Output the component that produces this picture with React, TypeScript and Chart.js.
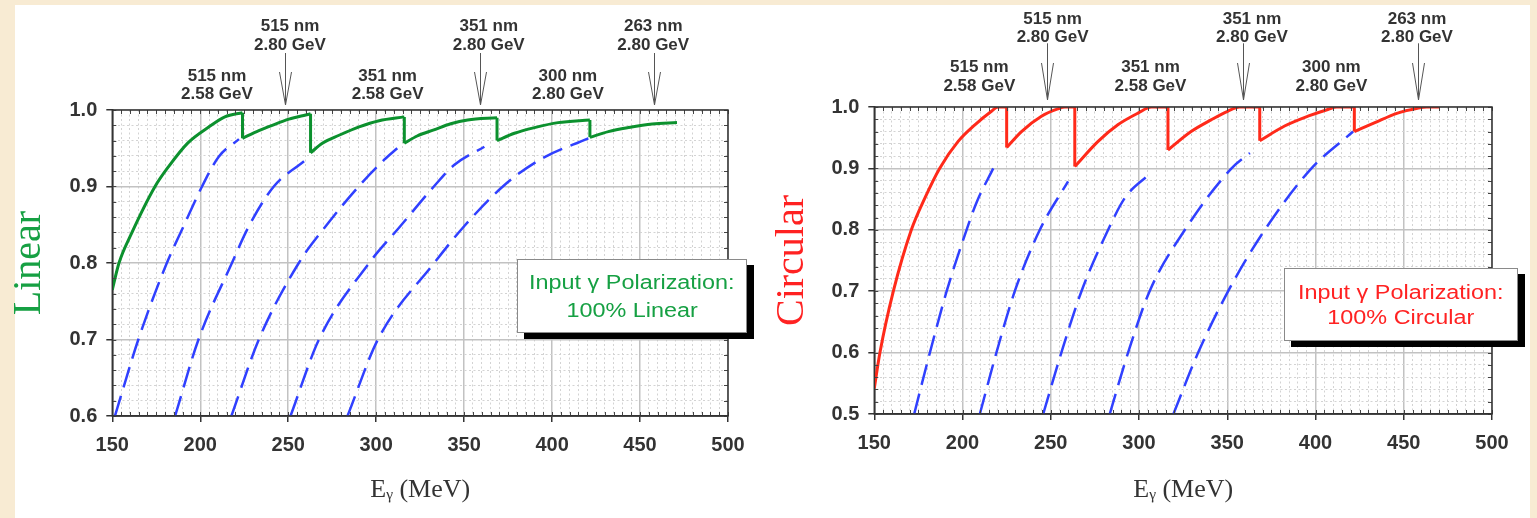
import React, { useEffect, useRef } from "react";
import { Chart, registerables } from "chart.js";

Chart.register(...registerables);

const SANS = '"Liberation Sans", Arial, Helvetica, sans-serif';
const SERIF = '"Liberation Serif", "Times New Roman", Times, serif';

// ---------------- shared tick labels ----------------
const xTickLabels = [150, 200, 250, 300, 350, 400, 450, 500];
const linearYTickLabels = [0.6, 0.7, 0.8, 0.9, 1.0];
const circularYTickLabels = [0.5, 0.6, 0.7, 0.8, 0.9, 1.0];

// ---------------- annotations (E in MeV) ----------------
const arrowE = [248, 359, 458];
const topLabelE = [251, 364, 457.5];
const topLabelText = [
  ["515 nm", "2.80 GeV"],
  ["351 nm", "2.80 GeV"],
  ["263 nm", "2.80 GeV"],
];
const lowLabelE = [209.5, 306.5, 409];
const lowLabelText = [
  ["515 nm", "2.58 GeV"],
  ["351 nm", "2.58 GeV"],
  ["300 nm", "2.80 GeV"],
];

// ---------------- Linear panel: solid envelope segments ----------------
const linearSolidE = [
  [150, 153.8, 161, 174.3, 182, 193, 205, 214, 224],
  [224, 233.3, 240.9, 250.4, 259.9, 262.7],
  [262.7, 269.4, 278.9, 290.3, 301.7, 316],
  [316, 323.3, 332.8, 342.4, 352, 368.7],
  [368.7, 378.6, 390, 403.4, 421.5],
  [421.5, 432, 443.5, 456.9, 471],
];
const linearSolidP = [
  [0.765, 0.8, 0.839, 0.9, 0.926, 0.957, 0.978, 0.991, 0.9965],
  [0.963, 0.973, 0.98, 0.988, 0.9935, 0.995],
  [0.944, 0.9565, 0.967, 0.978, 0.986, 0.991],
  [0.9565, 0.966, 0.974, 0.982, 0.987, 0.99],
  [0.96, 0.9696, 0.977, 0.9835, 0.987],
  [0.9643, 0.9717, 0.977, 0.9817, 0.9835],
];
// ---------------- Linear panel: dashed curves ----------------
const linearDashE = [
  [151.5, 164.8, 181, 190.5, 201, 210.5, 222],
  [185.7, 199, 218, 227.6, 241.8, 259],
  [217.7, 233.3, 256, 271.3, 290, 304.6, 312],
  [251.3, 267.5, 296, 313.7, 332.8, 344.3, 361.5],
  [283.7, 301, 333, 350, 372, 393, 420.6],
];
const linearDashP = [
  [0.6, 0.7, 0.8, 0.848, 0.9, 0.939, 0.962],
  [0.6, 0.7, 0.8, 0.848, 0.9, 0.933],
  [0.6, 0.7, 0.8, 0.848, 0.9, 0.935, 0.95],
  [0.6, 0.7, 0.8, 0.848, 0.9, 0.928, 0.952],
  [0.6, 0.7, 0.8, 0.848, 0.9, 0.935, 0.963],
];

// ---------------- Circular panel: solid envelope segments ----------------
const circularSolidE = [
  [150, 153.2, 160.8, 171, 178.7, 187, 197.5, 207, 216.4, 220, 225],
  [225, 233.4, 244.7, 254, 258, 263.6],
  [263.6, 276.8, 288, 299.4, 307, 316.4],
  [316.4, 329.5, 340.8, 350.2, 357, 368.4],
  [368.4, 382.5, 395.7, 407, 412, 422],
  [422, 433.3, 446.5, 457.8, 463, 470],
];
const circularSolidP = [
  [0.542, 0.6, 0.7, 0.8, 0.852, 0.9, 0.944, 0.971, 0.993, 1.0, 1.0],
  [0.934, 0.96, 0.985, 0.997, 1.0, 1.0],
  [0.903, 0.944, 0.971, 0.99, 1.0, 1.0],
  [0.93, 0.96, 0.979, 0.993, 1.0, 1.0],
  [0.945, 0.969, 0.985, 0.996, 1.0, 1.0],
  [0.96, 0.974, 0.99, 0.998, 1.0, 1.0],
];
// ---------------- Circular panel: dashed curves ----------------
const circularDashE = [
  [172.6, 181.5, 191, 202.3, 208, 217.4],
  [209.8, 219.2, 229.6, 243.8, 259.8],
  [245.7, 256, 267.4, 282.5, 292, 306],
  [283.4, 293.8, 306, 326, 352.4, 362.8],
  [319.5, 333.5, 350.5, 371.3, 397.7, 421.3],
];
const circularDashP = [
  [0.5, 0.6, 0.7, 0.8, 0.845, 0.9],
  [0.5, 0.6, 0.7, 0.8, 0.879],
  [0.5, 0.6, 0.7, 0.8, 0.852, 0.891],
  [0.5, 0.6, 0.7, 0.8, 0.9, 0.925],
  [0.5, 0.6, 0.7, 0.8, 0.9, 0.96],
];

const BLUE = "#3040ff";

const near = (a: number, b: number) => Math.abs(a - b) < 1e-6;

const frameAnnotPlugin = {
  id: "frameAnnot",
  afterDraw(chart: any, _args: any, o: any) {
    const { ctx, chartArea: a } = chart;
    const xs = chart.scales.x;
    const ys = chart.scales.y;
    ctx.save();
    // inward minor tick marks on all four sides
    ctx.strokeStyle = "#444";
    ctx.lineWidth = 1;
    ctx.beginPath();
    xs.ticks.forEach((t: any) => {
      const px = Math.round(xs.getPixelForValue(t.value)) + 0.5;
      ctx.moveTo(px, a.top);
      ctx.lineTo(px, a.top + 4);
      ctx.moveTo(px, a.bottom);
      ctx.lineTo(px, a.bottom - 4);
    });
    ys.ticks.forEach((t: any) => {
      const py = Math.round(ys.getPixelForValue(t.value)) + 0.5;
      ctx.moveTo(a.left, py);
      ctx.lineTo(a.left + 4, py);
      ctx.moveTo(a.right, py);
      ctx.lineTo(a.right - 4, py);
    });
    ctx.stroke();
    // frame
    ctx.lineWidth = 1.5;
    ctx.strokeStyle = "#333";
    ctx.strokeRect(a.left, a.top, a.right - a.left, a.bottom - a.top);

    // labels above the plot
    ctx.fillStyle = "#333";
    ctx.font = `bold 17px ${SANS}`;
    ctx.textAlign = "center";
    ctx.textBaseline = "middle";
    o.topE.forEach((e: number, i: number) => {
      const px = xs.getPixelForValue(e);
      o.topText[i].forEach((s: string, j: number) => ctx.fillText(s, px, a.top + o.topY[j]));
    });
    o.lowE.forEach((e: number, i: number) => {
      const px = xs.getPixelForValue(e);
      o.lowText[i].forEach((s: string, j: number) => ctx.fillText(s, px, a.top + o.lowY[j]));
    });
    // arrows
    ctx.strokeStyle = "#555";
    ctx.lineWidth = 1;
    o.arrowE.forEach((e: number) => {
      const px = Math.round(xs.getPixelForValue(e)) + 0.5;
      const y0 = a.top + o.arrowY[0];
      const yw = a.top + o.arrowY[1];
      const yt = a.top + o.arrowY[2];
      ctx.beginPath();
      ctx.moveTo(px, y0);
      ctx.lineTo(px, yt);
      ctx.moveTo(px - 6, yw);
      ctx.lineTo(px, yt);
      ctx.lineTo(px + 6, yw);
      ctx.stroke();
    });
    ctx.restore();
  },
};

type Spec = {
  solidE: number[][];
  solidP: number[][];
  dashE: number[][];
  dashP: number[][];
  color: string;
  titleColor: string;
  yTitle: string;
  yMin: number;
  yTicks: number[];
  yAxisW: number;
  xAxisH: number;
  padRight: number;
  padTop: number;
  yTitlePad: number;
  annot: any;
};

function makeConfig(spec: Spec): any {
  const datasets: any[] = [];
  spec.solidE.forEach((xs, k) => {
    datasets.push({
      data: xs.map((x, i) => ({ x, y: spec.solidP[k][i] })),
      borderColor: spec.color,
      borderWidth: 3,
      pointRadius: 0,
      cubicInterpolationMode: "monotone",
      fill: false,
    });
    if (k + 1 < spec.solidE.length) {
      const n = xs.length - 1;
      datasets.push({
        data: [
          { x: xs[n], y: spec.solidP[k][n] },
          { x: spec.solidE[k + 1][0], y: spec.solidP[k + 1][0] },
        ],
        borderColor: spec.color,
        borderWidth: 3,
        pointRadius: 0,
        tension: 0,
        fill: false,
      });
    }
  });
  spec.dashE.forEach((xs, k) => {
    datasets.push({
      data: xs.map((x, i) => ({ x, y: spec.dashP[k][i] })),
      borderColor: BLUE,
      borderWidth: 2.5,
      borderDash: [21, 9],
      pointRadius: 0,
      cubicInterpolationMode: "monotone",
      fill: false,
    });
  });

  const majorX = (v: number) => xTickLabels.some((t) => near(t, v));
  const majorY = (v: number) => spec.yTicks.some((t) => near(t, v));

  return {
    type: "line",
    data: { datasets },
    plugins: [frameAnnotPlugin],
    options: {
      responsive: false,
      animation: false,
      layout: { padding: { left: 0, right: spec.padRight, top: spec.padTop, bottom: 0 } },
      plugins: {
        legend: { display: false },
        tooltip: { enabled: false },
        frameAnnot: spec.annot,
      },
      scales: {
        x: {
          type: "linear",
          min: 150,
          max: 500,
          ticks: {
            stepSize: 5,
            autoSkip: false,
            maxTicksLimit: 1000,
            maxRotation: 0,
            minRotation: 0,
            padding: 11,
            color: "#333",
            font: { family: SANS, size: 20, weight: "bold" },
            callback: (v: number) => (majorX(v) ? String(Math.round(v)) : ""),
          },
          grid: {
            color: (c: any) => (c.tick && majorX(c.tick.value) ? "#c2c2c2" : "#d3d3d3"),
            lineWidth: (c: any) => (c.tick && majorX(c.tick.value) ? 1.5 : 1),
            tickColor: (c: any) => (c.tick && majorX(c.tick.value) ? "#333" : "rgba(0,0,0,0)"),
            tickLength: 6,
            tickWidth: 1.5,
          },
          border: {
            display: true,
            color: "#333",
            width: 1.5,
            dash: (c: any) => (c.tick && !majorX(c.tick.value) ? [2, 2.5] : []),
          },
          title: {
            display: true,
            text: "E\u1D67 (MeV)",
            color: "#333",
            font: { family: SERIF, size: 26, weight: "normal" },
            padding: { top: 0, bottom: 12 },
          },
          afterFit: (s: any) => {
            s.height = spec.xAxisH;
          },
        },
        y: {
          type: "linear",
          min: spec.yMin,
          max: 1.0,
          ticks: {
            stepSize: 0.02,
            autoSkip: false,
            maxTicksLimit: 1000,
            padding: 9,
            color: "#333",
            font: { family: SANS, size: 20, weight: "bold" },
            callback: (v: number) => (majorY(v) ? Number(v).toFixed(1) : ""),
          },
          grid: {
            color: (c: any) => (c.tick && majorY(c.tick.value) ? "#c2c2c2" : "#d3d3d3"),
            lineWidth: (c: any) => (c.tick && majorY(c.tick.value) ? 1.5 : 1),
            tickColor: (c: any) => (c.tick && majorY(c.tick.value) ? "#333" : "rgba(0,0,0,0)"),
            tickLength: 6,
            tickWidth: 1.5,
          },
          border: {
            display: true,
            color: "#333",
            width: 1.5,
            dash: (c: any) => (c.tick && !majorY(c.tick.value) ? [2, 2.5] : []),
          },
          title: {
            display: true,
            text: spec.yTitle,
            color: spec.titleColor,
            font: { family: SERIF, size: 40, weight: "normal" },
            padding: { top: spec.yTitlePad, bottom: 0 },
          },
          afterFit: (s: any) => {
            s.width = spec.yAxisW;
          },
        },
      },
    },
  };
}

const GREEN = "#0c912e";
const GREEN_TEXT = "#16a043";
const RED = "#ff2a1a";
const RED_TEXT = "#ff2222";

export default function App() {
  const leftRef = useRef<HTMLCanvasElement>(null);
  const rightRef = useRef<HTMLCanvasElement>(null);

  useEffect(() => {
    const left = new Chart(
      leftRef.current as HTMLCanvasElement,
      makeConfig({
        solidE: linearSolidE,
        solidP: linearSolidP,
        dashE: linearDashE,
        dashP: linearDashP,
        color: GREEN,
        titleColor: GREEN_TEXT,
        yTitle: "Linear",
        yMin: 0.6,
        yTicks: linearYTickLabels,
        yAxisW: 112.3,
        xAxisH: 102,
        padRight: 40,
        padTop: 110,
        yTitlePad: 5,
        annot: {
          topE: topLabelE,
          topText: topLabelText,
          lowE: lowLabelE,
          lowText: lowLabelText,
          arrowE,
          topY: [-83.5, -64.5],
          lowY: [-33.5, -15.3],
          arrowY: [-57, -38, -5],
        },
      })
    );
    const right = new Chart(
      rightRef.current as HTMLCanvasElement,
      makeConfig({
        solidE: circularSolidE,
        solidP: circularSolidP,
        dashE: circularDashE,
        dashP: circularDashP,
        color: RED,
        titleColor: RED_TEXT,
        yTitle: "Circular",
        yMin: 0.5,
        yTicks: circularYTickLabels,
        yAxisW: 106.3,
        xAxisH: 104,
        padRight: 45,
        padTop: 107,
        yTitlePad: 0,
        annot: {
          topE: topLabelE,
          topText: topLabelText,
          lowE: lowLabelE,
          lowText: lowLabelText,
          arrowE,
          topY: [-87.8, -69.5],
          lowY: [-39.5, -20.8],
          arrowY: [-63.7, -44, -7],
        },
      })
    );
    return () => {
      left.destroy();
      right.destroy();
    };
  }, []);

  const boxBase: React.CSSProperties = {
    position: "absolute",
    background: "#fff",
    border: "1px solid #8a8a8a",
    boxShadow: "7px 6px 0 #000",
    boxSizing: "border-box",
    display: "flex",
    flexDirection: "column",
    justifyContent: "center",
    alignItems: "center",
    fontFamily: SANS,
    fontSize: 20,
    whiteSpace: "nowrap",
  };
  const line: React.CSSProperties = { transform: "scaleX(1.17)" };

  return (
    <div
      style={{
        position: "fixed",
        left: 0,
        top: 0,
        width: 1537,
        height: 518,
        background: "#f8ebd3",
        overflow: "hidden",
      }}
    >
      <div style={{ position: "absolute", left: 15, top: 5, width: 1515, height: 513, background: "#fff" }} />
      <canvas
        ref={leftRef}
        width={768}
        height={518}
        style={{ position: "absolute", left: 0, top: 0, width: 768, height: 518 }}
      />
      <canvas
        ref={rightRef}
        width={769}
        height={518}
        style={{ position: "absolute", left: 768, top: 0, width: 769, height: 518 }}
      />
      <div style={{ ...boxBase, left: 517, top: 259, width: 230, height: 74, color: GREEN_TEXT, lineHeight: "28px" }}>
        <div style={line}>Input γ Polarization:</div>
        <div style={line}>100% Linear</div>
      </div>
      <div style={{ ...boxBase, left: 1284, top: 268, width: 234, height: 73, color: RED_TEXT, lineHeight: "25px" }}>
        <div style={line}>Input γ Polarization:</div>
        <div style={line}>100% Circular</div>
      </div>
    </div>
  );
}
